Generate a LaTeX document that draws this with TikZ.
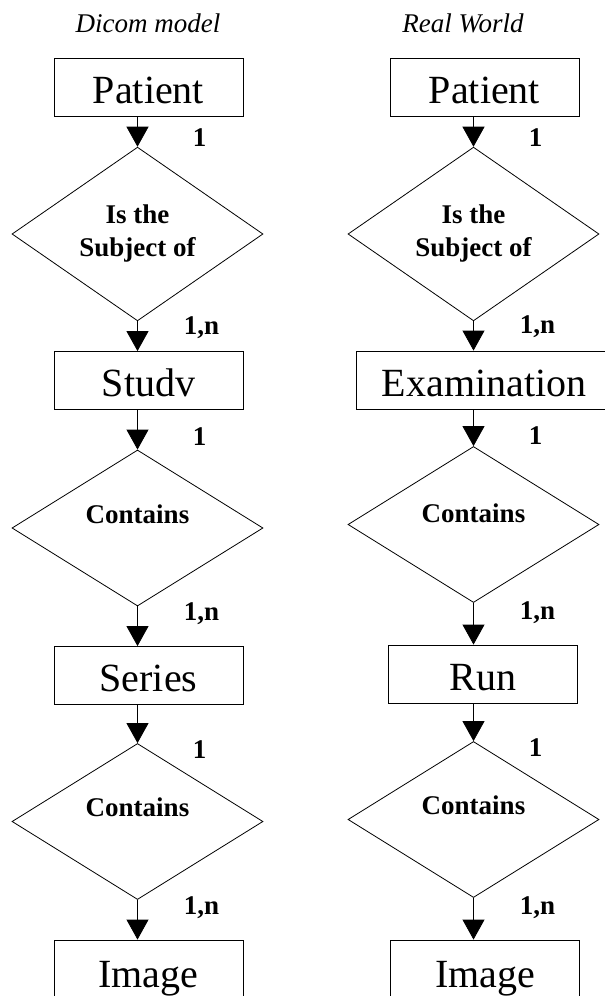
\documentclass[tikz,border=0pt]{standalone}
\usepackage{fontspec}
\setmainfont{Liberation Serif}
\usetikzlibrary{shapes.geometric,arrows.meta}

\begin{document}
\begin{tikzpicture}[x=1pt,y=-1pt,
    entity/.style={draw, line width=0.8pt, minimum width=189pt, minimum height=58pt, inner sep=0pt,
      font=\fontsize{40}{48}\selectfont, text height=32pt, text depth=0pt},
    rel/.style={draw, diamond, line width=0.8pt, minimum width=251pt, minimum height=156pt, inner sep=0pt,
      align=center, font=\bfseries\fontsize{27}{33}\selectfont},
    reltext/.style={font=\bfseries\fontsize{27}{33}\selectfont, yshift=14pt},
    card/.style={font=\bfseries\fontsize{27}{30}\selectfont, inner sep=0pt},
    arr/.style={line width=0.8pt, -{Triangle[width=22pt,length=20pt]}},
    heading/.style={font=\itshape\fontsize{27}{32}\selectfont, inner sep=0pt, anchor=base}]
    \clip (0,0) rectangle (605,996);

    % headings
    \node[heading] (hd) at (148,32) {Dicom model};
    \node[heading] (hr) at (463,32) {Real World};

    % dicom model
    \node[entity] (p1) at (148.5,87) {Patient};
    \node[rel] (d1) at (137.5,234) {Is the\\Subject of};
    \node[entity] (s1) at (148.5,380.5) {Studv};
    \node[rel, label={[reltext]center:Contains}] (d2) at (137.5,528) {};
    \node[entity] (s2) at (148.5,675.5) {Series};
    \node[rel, label={[reltext]center:Contains}] (d3) at (137.5,821.5) {};
    \node[entity, minimum height=62pt] (i1) at (148.5,971) {Image};

    \draw[arr] (d1.north |- p1.south) -- node[card, pos=0.7, xshift=62pt] {1} (d1.north);
    \draw[arr] (d1.south) -- node[card, pos=0.2, xshift=64pt] {1,n} (d1.south |- s1.north);
    \draw[arr] (d2.north |- s1.south) -- node[card, pos=0.68, xshift=62pt] {1} (d2.north);
    \draw[arr] (d2.south) -- node[card, pos=0.18, xshift=64pt] {1,n} (d2.south |- s2.north);
    \draw[arr] (d3.north |- s2.south) -- node[card, pos=1.17, xshift=62pt] {1} (d3.north);
    \draw[arr] (d3.south) -- node[card, pos=0.19, xshift=64pt] {1,n} (d3.south |- i1.north);

    % real world
    \node[entity] (p2) at (484.5,87) {Patient};
    \node[rel] (d4) at (473.5,234) {Is the\\Subject of};
    \node[entity, minimum width=256pt] (e2) at (484,380) {Examination};
    \node[rel, label={[reltext, yshift=-3pt]center:Contains}] (d5) at (473.5,524.5) {};
    \node[entity] (r2) at (483,674) {Run};
    \node[rel, label={[reltext]center:Contains}] (d6) at (473.5,819.5) {};
    \node[entity, minimum height=62pt] (i2) at (485,971) {Image};

    \draw[arr] (d4.north |- p2.south) -- node[card, pos=0.7, xshift=62pt] {1} (d4.north);
    \draw[arr] (d4.south) -- node[card, pos=0.18, xshift=64pt] {1,n} (d4.south |- e2.north);
    \draw[arr] (d5.north |- e2.south) -- node[card, pos=0.71, xshift=62pt] {1} (d5.north);
    \draw[arr] (d5.south) -- node[card, pos=0.23, xshift=64pt] {1,n} (d5.south |- r2.north);
    \draw[arr] (d6.north |- r2.south) -- node[card, pos=1.18, xshift=62pt] {1} (d6.north);
    \draw[arr] (d6.south) -- node[card, pos=0.23, xshift=64pt] {1,n} (d6.south |- i2.north);
\end{tikzpicture}
\end{document}
